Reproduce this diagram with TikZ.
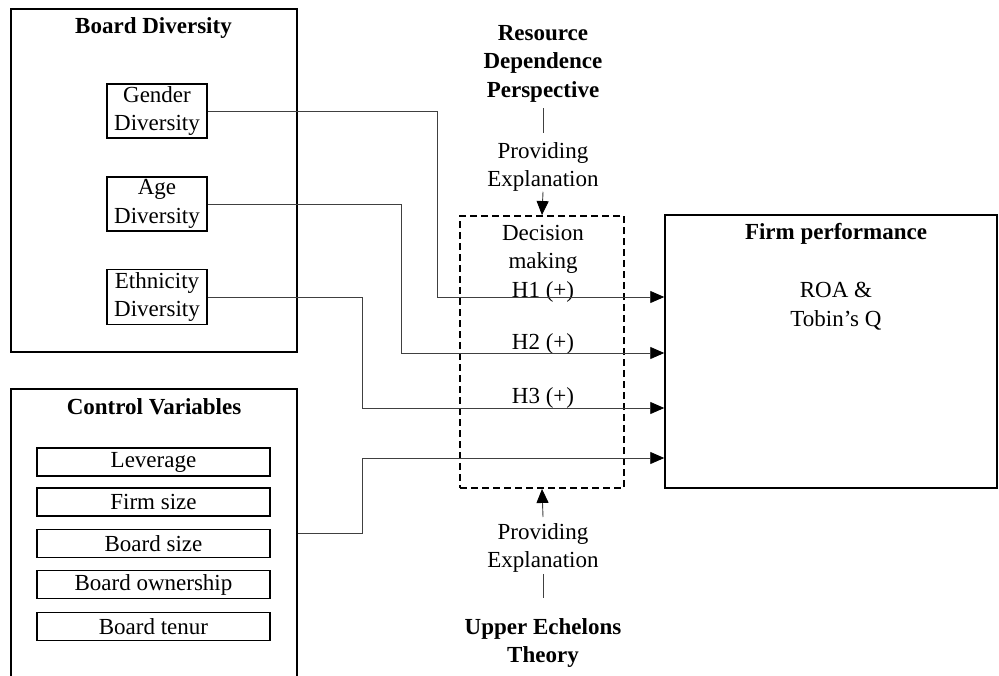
\documentclass[tikz,border=0pt]{standalone}
\usepackage{fontspec}
\setmainfont{Liberation Serif}
\usetikzlibrary{arrows.meta}
\begin{document}
\begin{tikzpicture}[x=1pt,y=-1pt,
  every node/.style={font=\fontsize{23}{28.5}\selectfont, inner sep=0pt},
  box/.style={draw=black, line width=1.5pt},
  inbox/.style={draw=black, line width=1.3pt, align=center},
  dbox/.style={draw=black, line width=1.9pt, dash pattern=on 7pt off 4pt},
  conn/.style={draw=black!75, line width=0.9pt},
  arr/.style={conn, -{Triangle[length=14pt,width=12pt,fill=black,color=black]}},
  ttl/.style={font=\bfseries\fontsize{23}{28.5}\selectfont, align=center, anchor=north},
  txt/.style={align=center, anchor=north}]
\clip (0,0) rectangle (999,675);
\fill[white] (0,0) rectangle (999,675);

% outer boxes
\node[box, minimum width=286pt, minimum height=343pt] (bd) at (154,180.5) {};
\node[ttl] (bdt) at (153.5,17) {Board Diversity};
\node[box, minimum width=286pt, minimum height=322pt] (cv) at (154,550) {};
\node[ttl] (cvt) at (154,398) {Control Variables};
\node[box, minimum width=332pt, minimum height=273pt] (fp) at (831,351.5) {};
\node[ttl] (fpt) at (836,223) {Firm performance};
\node[txt] (roa) at (836,282) {ROA \&\\Tobin’s Q};
\node[dbox, minimum width=164pt, minimum height=272pt] (db) at (542,352) {};

% diversity boxes
\node[inbox, minimum width=100pt, minimum height=54pt] (gd) at (157,111) {Gender\\Diversity};
\node[inbox, minimum width=100pt, minimum height=54pt] (ad) at (157,204) {Age\\Diversity};
\node[inbox, minimum width=100pt, minimum height=55pt] (ed) at (157,297) {Ethnicity\\Diversity};

% control boxes
\node[inbox, minimum width=233pt, minimum height=28pt] (lev) at (153.5,462) {Leverage};
\node[inbox, minimum width=233pt, minimum height=28pt] (fs) at (153.5,502) {Firm size};
\node[inbox, minimum width=233pt, minimum height=28pt] (bs) at (153.5,543.5) {Board size};
\node[inbox, minimum width=233pt, minimum height=28pt] (bo) at (153.5,584.5) {Board ownership};
\node[inbox, minimum width=233pt, minimum height=28pt] (bt) at (153.5,626.5) {Board tenur};

% theory texts
\node[ttl] (rdp) at (543,25) {Resource\\Dependence\\Perspective};
\node[txt] (pe1) at (543,142) {Providing\\Explanation};
\node[txt] (dm) at (543,225) {Decision\\making\\H1 (+)};
\node[txt] (h2) at (543,333) {H2 (+)};
\node[txt] (h3) at (543,387) {H3 (+)};
\node[txt] (pe2) at (543,523) {Providing\\Explanation};
\node[ttl] (uet) at (543,618) {Upper Echelons\\Theory};

% theory connectors
\draw[conn] ([yshift=-6pt]rdp.south) -- ([yshift=9pt]pe1.north);
\draw[arr] (pe1.south) -- (db.north);
\draw[arr] ([yshift=6pt]pe2.north) -- (db.south);
\draw[conn] ([yshift=-1pt]pe2.south) -- ([yshift=20pt]uet.north);

% hypothesis connectors
\coordinate (k1) at (437,297);
\coordinate (k2) at (401,353);
\coordinate (k3) at (362,408);
\coordinate (k4) at (362,458);
\draw[arr] (gd.east) -| (k1) -- (fp.west |- k1);
\draw[arr] (ad.east) -| (k2) -- (fp.west |- k2);
\draw[arr] (ed.east) -| (k3) -- (fp.west |- k3);
\draw[arr] (cv.east |- 0,533) -| (k4) -- (fp.west |- k4);
\end{tikzpicture}
\end{document}
